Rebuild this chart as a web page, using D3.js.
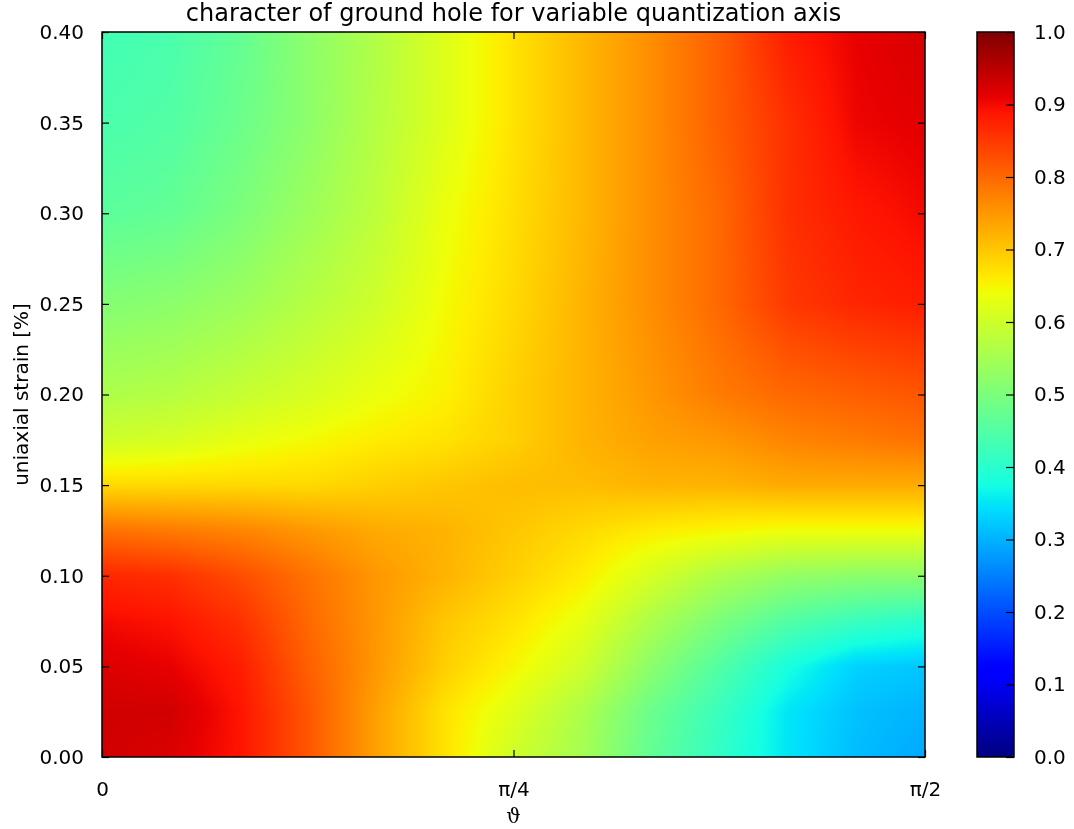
<!DOCTYPE html>
<html>
<head>
<meta charset="utf-8">
<script src="https://cdn.jsdelivr.net/npm/d3@7"></script>
<style>
  body { margin: 0; background: #fff; }
  #wrap { position: relative; width: 1074px; height: 829px; }
  #wrap canvas, #wrap svg { position: absolute; left: 0; top: 0; }
  text { font-family: "DejaVu Sans", sans-serif; fill: #000; }
</style>
</head>
<body>
<div id="wrap">
  <canvas id="heat" width="1074" height="829"></canvas>
  <svg id="chart" width="1074" height="829"></svg>
</div>
<script>
// Sample nodes along the quantization angle (0 .. pi/2, steps of pi/24)
const thetaNodes = d3.range(13).map(i => i * Math.PI / 24);
// Sample nodes along the uniaxial strain axis [%]
const strainNodes = [0, 0.025, 0.05, 0.075, 0.1, 0.125, 0.15, 0.175, 0.2, 0.25, 0.3, 0.35, 0.4];

// Hole character at each strain level, one value per theta node
const s000 = [0.93, 0.92, 0.89, 0.82, 0.74, 0.67, 0.60, 0.55, 0.47, 0.41, 0.35, 0.31, 0.29];
const s025 = [0.93, 0.93, 0.89, 0.82, 0.74, 0.67, 0.62, 0.56, 0.48, 0.42, 0.35, 0.315, 0.30];
const s050 = [0.92, 0.91, 0.88, 0.81, 0.75, 0.69, 0.65, 0.60, 0.52, 0.45, 0.38, 0.33, 0.32];
const s075 = [0.90, 0.89, 0.86, 0.80, 0.75, 0.70, 0.67, 0.63, 0.56, 0.50, 0.45, 0.42, 0.40];
const s100 = [0.87, 0.86, 0.83, 0.79, 0.75, 0.72, 0.69, 0.66, 0.61, 0.56, 0.53, 0.52, 0.52];
const s125 = [0.79, 0.78, 0.77, 0.75, 0.73, 0.72, 0.70, 0.68, 0.66, 0.65, 0.64, 0.64, 0.64];
const s150 = [0.68, 0.68, 0.68, 0.68, 0.69, 0.70, 0.71, 0.71, 0.72, 0.72, 0.73, 0.73, 0.73];
const s175 = [0.60, 0.61, 0.63, 0.645, 0.66, 0.67, 0.69, 0.72, 0.74, 0.75, 0.77, 0.78, 0.79];
const s200 = [0.56, 0.57, 0.59, 0.61, 0.635, 0.655, 0.69, 0.72, 0.75, 0.78, 0.80, 0.81, 0.82];
const s250 = [0.51, 0.52, 0.54, 0.57, 0.60, 0.645, 0.68, 0.72, 0.76, 0.80, 0.85, 0.87, 0.88];
const s300 = [0.46, 0.47, 0.50, 0.54, 0.58, 0.635, 0.675, 0.715, 0.76, 0.80, 0.86, 0.885, 0.90];
const s350 = [0.44, 0.45, 0.48, 0.52, 0.57, 0.62, 0.67, 0.715, 0.76, 0.81, 0.86, 0.905, 0.915];
const s400 = [0.43, 0.44, 0.47, 0.52, 0.565, 0.62, 0.67, 0.715, 0.76, 0.81, 0.88, 0.91, 0.925];
const rows = [s000, s025, s050, s075, s100, s125, s150, s175, s200, s250, s300, s350, s400];

// Axis tick values and labels
const thetaTicks = [0, Math.PI / 4, Math.PI / 2];
const thetaTickLabels = ["0", "π/4", "π/2"];
const strainTicks = [0, 0.05, 0.1, 0.15, 0.2, 0.25, 0.3, 0.35, 0.4];
const colorTicks = [0, 0.1, 0.2, 0.3, 0.4, 0.5, 0.6, 0.7, 0.8, 0.9, 1.0];

const titleText = "character of ground hole for variable quantization axis";
const xLabel = "ϑ";
const yLabel = "uniaxial strain [%]";

// Layout
const plot = { left: 102, right: 925, top: 32, bottom: 757 };
const cbar = { left: 977, right: 1014, top: 32, bottom: 757 };

const x = d3.scaleLinear().domain([0, Math.PI / 2]).range([plot.left, plot.right]);
const y = d3.scaleLinear().domain([0, 0.4]).range([plot.bottom, plot.top]);
const c = d3.scaleLinear().domain([0, 1]).range([cbar.bottom, cbar.top]);

// Jet colour map, channel by channel
const jetR = d3.scaleLinear().domain([0, 0.35, 0.66, 0.89, 1]).range([0, 0, 1, 1, 0.5]).clamp(true);
const jetG = d3.scaleLinear().domain([0, 0.125, 0.375, 0.64, 0.91, 1]).range([0, 0, 1, 1, 0, 0]).clamp(true);
const jetB = d3.scaleLinear().domain([0, 0.11, 0.34, 0.65, 1]).range([0.5, 1, 1, 0, 0]).clamp(true);
const jet = v => [jetR(v) * 255, jetG(v) * 255, jetB(v) * 255];

// Bilinear shading between the sampled nodes
function locate(nodes, v) {
  let i = d3.bisectRight(nodes, v) - 1;
  i = Math.max(0, Math.min(nodes.length - 2, i));
  const t = Math.max(0, Math.min(1, (v - nodes[i]) / (nodes[i + 1] - nodes[i])));
  return [i, t];
}
function valueAt(theta, strain) {
  const [i, tx] = locate(thetaNodes, theta);
  const [j, ty] = locate(strainNodes, strain);
  const a = rows[j][i] * (1 - tx) + rows[j][i + 1] * tx;
  const b = rows[j + 1][i] * (1 - tx) + rows[j + 1][i + 1] * tx;
  return a * (1 - ty) + b * ty;
}

const ctx = document.getElementById("heat").getContext("2d");
const w = plot.right - plot.left, h = plot.bottom - plot.top;
const img = ctx.createImageData(w, h);
for (let py = 0; py < h; py++) {
  const strain = y.invert(plot.top + py + 0.5);
  for (let px = 0; px < w; px++) {
    const theta = x.invert(plot.left + px + 0.5);
    const [r, g, b] = jet(valueAt(theta, strain));
    const k = (py * w + px) * 4;
    img.data[k] = r; img.data[k + 1] = g; img.data[k + 2] = b; img.data[k + 3] = 255;
  }
}
ctx.putImageData(img, plot.left, plot.top);

// Colour bar
const cw = cbar.right - cbar.left, ch = cbar.bottom - cbar.top;
const cimg = ctx.createImageData(cw, ch);
for (let py = 0; py < ch; py++) {
  const [r, g, b] = jet(c.invert(cbar.top + py + 0.5));
  for (let px = 0; px < cw; px++) {
    const k = (py * cw + px) * 4;
    cimg.data[k] = r; cimg.data[k + 1] = g; cimg.data[k + 2] = b; cimg.data[k + 3] = 255;
  }
}
ctx.putImageData(cimg, cbar.left, cbar.top);

// Axes, frames and labels
const svg = d3.select("#chart");
const tickLen = 7;
const fontSize = 20;

function styleAxis(g) {
  g.select(".domain").remove();
  g.selectAll(".tick line").attr("stroke", "#000").attr("stroke-width", 1.2);
  g.selectAll(".tick text").attr("font-size", fontSize).attr("font-family", "DejaVu Sans, sans-serif").attr("fill", "#000");
}

svg.append("g").attr("transform", `translate(0,${plot.bottom})`)
  .call(d3.axisBottom(x).tickValues(thetaTicks).tickFormat((d, i) => thetaTickLabels[i])
    .tickSizeInner(-tickLen).tickSizeOuter(0).tickPadding(25))
  .call(styleAxis);
svg.append("g").attr("transform", `translate(0,${plot.top})`)
  .call(d3.axisTop(x).tickValues(thetaTicks).tickFormat("").tickSizeInner(-tickLen).tickSizeOuter(0))
  .call(styleAxis);
svg.append("g").attr("transform", `translate(${plot.left},0)`)
  .call(d3.axisLeft(y).tickValues(strainTicks).tickFormat(d3.format(".2f"))
    .tickSizeInner(-tickLen).tickSizeOuter(0).tickPadding(18))
  .call(styleAxis);
svg.append("g").attr("transform", `translate(${plot.right},0)`)
  .call(d3.axisRight(y).tickValues(strainTicks).tickFormat("").tickSizeInner(-tickLen).tickSizeOuter(0))
  .call(styleAxis);
svg.append("g").attr("transform", `translate(${cbar.right},0)`)
  .call(d3.axisRight(c).tickValues(colorTicks).tickFormat(d3.format(".1f"))
    .tickSizeInner(-8).tickSizeOuter(0).tickPadding(20))
  .call(styleAxis);

svg.append("rect").attr("x", plot.left).attr("y", plot.top)
  .attr("width", plot.right - plot.left).attr("height", plot.bottom - plot.top)
  .attr("fill", "none").attr("stroke", "#000").attr("stroke-width", 1.5);
svg.append("rect").attr("x", cbar.left).attr("y", cbar.top)
  .attr("width", cbar.right - cbar.left).attr("height", cbar.bottom - cbar.top)
  .attr("fill", "none").attr("stroke", "#000").attr("stroke-width", 1.5);

svg.append("text").attr("x", (plot.left + plot.right) / 2).attr("y", 21)
  .attr("text-anchor", "middle").attr("font-size", 24).text(titleText);
svg.append("text").attr("x", (plot.left + plot.right) / 2).attr("y", 823)
  .attr("text-anchor", "middle").attr("font-size", fontSize)
  .style("font-family", "'DejaVu Serif', serif").text(xLabel);
svg.append("text").attr("transform", `translate(28,${(plot.top + plot.bottom) / 2}) rotate(-90)`)
  .attr("text-anchor", "middle").attr("font-size", fontSize).text(yLabel);
</script>
</body>
</html>
